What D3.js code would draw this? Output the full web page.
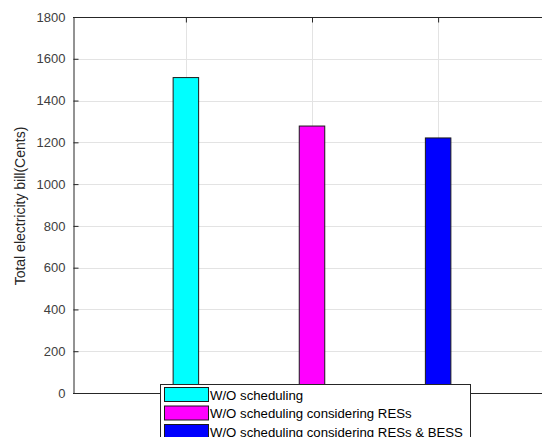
<!DOCTYPE html>
<html><head><meta charset="utf-8">
<script src="https://cdn.jsdelivr.net/npm/d3@7"></script>
<style>body{margin:0;background:#fff;overflow:hidden}svg{display:block}text{font-family:"Liberation Sans",Arial,Helvetica,sans-serif}</style>
</head><body><svg id="c" width="542" height="437"></svg>
<script>
const categories = [1, 2, 3];
const values = [1510, 1278, 1221];
const seriesNames = ["W/O scheduling", "W/O scheduling considering RESs", "W/O scheduling considering RESs & BESS"];
const colors = ["#00ffff", "#ff00ff", "#0000ff"];
const yTicks = [0, 200, 400, 600, 800, 1000, 1200, 1400, 1600, 1800];
const yLabel = "Total electricity bill(Cents)";

const svg = d3.select("#c");
const L = 73, T = 17, B = 393, R = 551;
const x = d3.scaleLinear().domain([0.105, 3.895]).range([L, R]);
const y = d3.scaleLinear().domain([0, 1800]).range([B, T]);
const bw = 25.5;

// grid
svg.append("g").selectAll("line").data(yTicks.slice(1)).join("line")
  .attr("x1", L).attr("x2", R).attr("y1", d => Math.round(y(d)) + 0.5).attr("y2", d => Math.round(y(d)) + 0.5)
  .attr("stroke", "#e3e3e3").attr("stroke-width", 1);
svg.append("g").selectAll("line").data(categories).join("line")
  .attr("x1", d => Math.round(x(d)) + 0.5).attr("x2", d => Math.round(x(d)) + 0.5).attr("y1", T).attr("y2", B)
  .attr("stroke", "#e3e3e3").attr("stroke-width", 1);

// bars
svg.append("g").selectAll("rect").data(values).join("rect")
  .attr("x", (d, i) => x(categories[i]) - bw / 2)
  .attr("y", d => y(d))
  .attr("width", bw)
  .attr("height", d => B - y(d))
  .attr("fill", (d, i) => colors[i])
  .attr("stroke", "#1a1a1a").attr("stroke-width", 1);

// axes
const yAxis = d3.axisLeft(y).tickValues(yTicks).tickSize(-5).tickPadding(8).tickFormat(d3.format("d"));
const gy = svg.append("g").attr("transform", `translate(${L + 0.5},0)`).call(yAxis);
gy.select(".domain").attr("stroke", "#262626");
gy.selectAll(".tick line").attr("stroke", "#262626");
gy.selectAll(".tick text").attr("fill", "#404040").style("font-size", "13px");

const xTop = d3.axisBottom(x).tickValues(categories).tickSize(5).tickFormat("");
const gxt = svg.append("g").attr("transform", `translate(0,${T + 0.5})`).call(xTop);
gxt.select(".domain").remove();
gxt.selectAll(".tick line").attr("stroke", "#262626");
svg.append("line").attr("x1", L).attr("x2", R).attr("y1", T + 0.5).attr("y2", T + 0.5).attr("stroke", "#262626");

const xBot = d3.axisTop(x).tickValues(categories).tickSize(5).tickFormat("");
const gxb = svg.append("g").attr("transform", `translate(0,${B + 0.5})`).call(xBot);
gxb.select(".domain").remove();
gxb.selectAll(".tick line").attr("stroke", "#262626");
svg.append("line").attr("x1", L).attr("x2", R).attr("y1", B + 0.5).attr("y2", B + 0.5).attr("stroke", "#262626");

// y label
svg.append("text").attr("transform", `translate(25,206) rotate(-90)`)
  .attr("text-anchor", "middle").attr("fill", "#262626").style("font-size", "14px").text(yLabel);

// legend
const lg = svg.append("g");
lg.append("rect").attr("x", 160.5).attr("y", 384.5).attr("width", 310).attr("height", 70)
  .attr("fill", "#fff").attr("stroke", "#262626").attr("stroke-width", 1);
const rows = lg.selectAll("g.row").data(seriesNames).join("g").attr("class", "row")
  .attr("transform", (d, i) => `translate(0,${387.5 + i * 18.5})`);
rows.append("rect").attr("x", 164.5).attr("y", 0).attr("width", 44).attr("height", 14)
  .attr("fill", (d, i) => colors[i]).attr("stroke", "#1a1a1a").attr("stroke-width", 1);
rows.append("text").attr("x", 210).attr("y", 12).attr("fill", "#000").style("font-size", "13.2px").text(d => d);
</script></body></html>
